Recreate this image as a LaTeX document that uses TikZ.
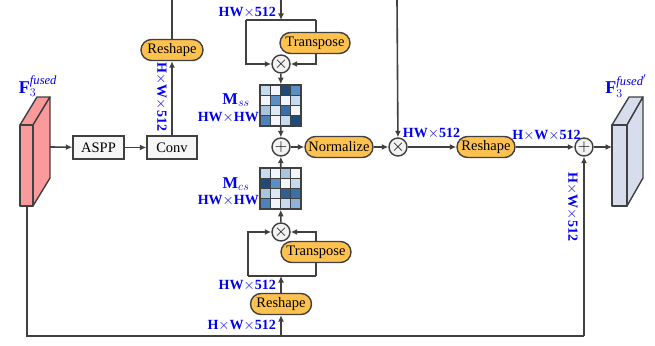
\documentclass[tikz,border=0pt]{standalone}
\usepackage{fontspec}
\setmainfont{Liberation Serif}
\usetikzlibrary{arrows.meta}
\definecolor{lc}{HTML}{404040}
\definecolor{orangef}{HTML}{FDC150}
\definecolor{pinkf}{HTML}{FA9A9A}
\definecolor{lavf}{HTML}{D8DDEE}
\definecolor{lb}{HTML}{0000F0}
\definecolor{c0}{HTML}{F2F5F9}
\definecolor{c1}{HTML}{C6DBEF}
\definecolor{c2}{HTML}{A9C4E0}
\definecolor{c3}{HTML}{5B8FC4}
\definecolor{c4}{HTML}{4D82BC}
\definecolor{c5}{HTML}{3A6FA8}
\definecolor{c6}{HTML}{1F4A7A}
\definecolor{c7}{HTML}{DCE8F4}
\definecolor{c8}{HTML}{8FB3D9}
\definecolor{c9}{HTML}{2F5F95}
\newcommand\myheatmap[3]{%
  \foreach \cl [count=\i from 0] in {#3} {%
    \pgfmathtruncatemacro\rr{div(\i,4)}%
    \pgfmathtruncatemacro\cc{mod(\i,4)}%
    \fill[\cl] (#1+\cc*10.25,#2+\rr*10.25) rectangle ++(10.25,10.25);
  }%
  \foreach \k in {1,2,3} {%
    \draw[lc,line width=1.2pt] (#1+\k*10.25,#2) -- ++(0,41);
    \draw[lc,line width=1.2pt] (#1,#2+\k*10.25) -- ++(41,0);
  }%
}
\begin{document}
\begin{tikzpicture}[x=1pt,y=-1pt,
  conn/.style={draw=lc,line width=1.6pt,-{Latex[length=6.5pt,width=6pt]}},
  ln/.style={draw=lc,line width=1.6pt},
  boxnode/.style={draw=lc,line width=1.4pt,fill=gray!7,minimum height=23pt,inner sep=0pt,font=\fontsize{14.5}{16}\selectfont},
  pill/.style={draw=lc,line width=1.4pt,fill=orangef,rounded corners=10.5pt,minimum height=21pt,inner sep=0pt,font=\fontsize{14.5}{16}\selectfont},
  opc/.style={circle,draw=lc,line width=1.4pt,fill=gray!10,minimum size=18pt,inner sep=0pt,font=\fontsize{16}{16}\selectfont},
  lab/.style={text=lb,inner sep=0pt,font=\bfseries\fontsize{14}{16}\selectfont},
  mlab/.style={text=lb,inner sep=0pt,font=\fontsize{16.5}{18}\selectfont},
  mat/.style={draw=lc,line width=1.6pt,minimum size=41pt,inner sep=0pt},
  blk/.style={draw=lc,line width=1.4pt,line join=round}]
\useasboundingbox (0,0) rectangle (655,345);

% left block
\draw[blk,fill=pinkf] (20,125) -- (37,97) -- (50,97) -- (33,125) -- cycle;
\draw[blk,fill=pinkf] (33,125) -- (50,97) -- (50,178) -- (33,206) -- cycle;
\draw[blk,fill=pinkf] (20,125) rectangle (33,206);
\node[mlab,font=\fontsize{18}{20}\selectfont] (flab) at (38,86) {$\mathbf{F}_3^{\mathit{fused}}$};
\coordinate (lbside) at (50,147);
\coordinate (lbbot) at (27,206);

% right block
\draw[blk,fill=lavf] (612,125) -- (629,97) -- (643,97) -- (627,125) -- cycle;
\draw[blk,fill=lavf] (627,125) -- (643,97) -- (643,178) -- (627,206) -- cycle;
\draw[blk,fill=lavf] (612,125) rectangle (627,206);
\node[mlab,font=\fontsize{18}{20}\selectfont] (frlab) at (626,86) {$\mathbf{F}_3^{\mathit{fused}'}$};
\coordinate (rbfront) at (612,147);

% left branch
\node[boxnode,minimum width=51pt] (aspp) at (98.5,147.5) {ASPP};
\node[boxnode,minimum width=50pt] (conv) at (172,147.5) {Conv};
\node[pill,minimum width=62pt] (rs1) at (172,50) {Reshape};
\coordinate (topA) at (172,0);
\draw[conn] (lbside) -- (aspp);
\draw[conn] (aspp) -- (conv);
\draw[conn] (conv) -- (rs1);
\draw[ln] (rs1) -- (topA);
\node[lab,rotate=-90] (l1) at (161.5,97) {H$\times$W$\times$512};

% top loop
\coordinate (topB) at (281,0);
\coordinate (jA) at (281,20);
\coordinate (lA) at (246,20);
\coordinate (rA) at (316,20);
\node[opc] (mulA) at (281,64) {$\times$};
\draw[conn] (topB) -- (jA);
\draw[ln] (lA) -- (rA);
\draw[conn] (lA) |- (mulA);
\draw[conn] (rA) |- (mulA);
\node[pill,minimum width=70pt] (tp1) at (315,43) {Transpose};
\node[lab,anchor=east] (l2) at (276,12) {HW$\times$512};

% M_ss
\myheatmap{260}{85}{c1,c0,c6,c3,c0,c3,c0,c1,c2,c7,c5,c0,c4,c0,c1,c6}
\node[mat] (mss) at (280.5,105.5) {};
\node[mlab] (mssl) at (236,100) {$\mathbf{M}_{ss}$};
\node[lab,anchor=east] (mssd) at (259,118) {HW$\times$HW};
\draw[conn] (mulA) -- (mss);

% center
\node[opc] (addC) at (281,147) {$+$};
\draw[conn] (mss) -- (addC);
\node[pill,minimum width=68pt] (norm) at (339,147) {Normalize};
\node[opc] (mulR) at (398,147) {$\times$};
\coordinate (topC) at (397,0);
\draw[conn] (addC) -- (norm);
\draw[conn] (norm) -- (mulR);
\draw[conn] (topC) -- (mulR);
\node[pill,minimum width=58pt] (rs2) at (486,147) {Reshape};
\node[opc] (addR) at (584,147) {$+$};
\draw[conn] (mulR) -- (rs2);
\draw[conn] (rs2) -- (addR);
\draw[conn] (addR) -- (rbfront);
\node[lab] (l3) at (431.5,133) {HW$\times$512};
\node[lab] (l4) at (546.5,135) {H$\times$W$\times$512};

% M_cs
\myheatmap{260}{168}{c1,c0,c2,c0,c6,c3,c0,c1,c2,c7,c9,c5,c4,c0,c1,c8}
\node[mat] (mcs) at (280.5,188.5) {};
\node[mlab] (mcsl) at (236,184) {$\mathbf{M}_{cs}$};
\node[lab,anchor=east] (mcsd) at (259,201) {HW$\times$HW};
\draw[conn] (mcs) -- (addC);

% bottom loop
\node[opc] (mulB) at (281,232) {$\times$};
\draw[conn] (mulB) -- (mcs);
\coordinate (jB) at (281,276);
\coordinate (lB) at (248,276);
\coordinate (rB) at (316,276);
\draw[ln] (lB) -- (rB);
\draw[conn] (lB) |- (mulB);
\draw[conn] (rB) |- (mulB);
\node[pill,minimum width=70pt] (tp2) at (316,252) {Transpose};
\node[pill,minimum width=61pt] (rs3) at (281,304) {Reshape};
\draw[conn] (rs3) -- (jB);
\node[lab,anchor=east] (l5) at (276,285) {HW$\times$512};
\node[lab,anchor=east] (l6) at (276,325) {H$\times$W$\times$512};

% bottom skip line
\coordinate (bm) at (281,336);
\coordinate (br) at (584,336);
\draw[ln] (lbbot) |- (br);
\draw[conn] (br) -- (addR);
\draw[conn] (bm) -- (rs3);
\node[lab,rotate=-90] (l7) at (572.5,207) {H$\times$W$\times$512};
\end{tikzpicture}
\end{document}
